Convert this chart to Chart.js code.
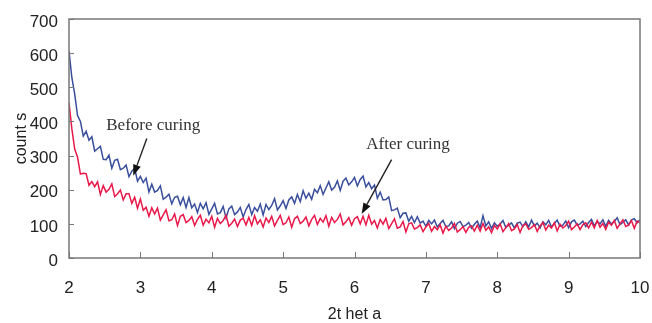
<!DOCTYPE html>
<html>
<head>
<meta charset="utf-8">
<script src="https://cdn.jsdelivr.net/npm/chart.js@4.4.0/dist/chart.umd.min.js"></script>
<style>
  html, body { margin: 0; padding: 0; background: #fff; }
  #wrap { width: 652px; height: 323px; }
</style>
</head>
<body>
<div id="wrap"><canvas id="xrd"></canvas></div>
<script>
// 2theta positions (deg), sampled every 0.04
const theta = [
  2.00,2.04,2.08,2.12,2.16,2.20,2.24,2.28,2.32,2.36,
  2.40,2.44,2.48,2.52,2.56,2.60,2.64,2.68,2.72,2.76,
  2.80,2.84,2.88,2.92,2.96,3.00,3.04,3.08,3.12,3.16,
  3.20,3.24,3.28,3.32,3.36,3.40,3.44,3.48,3.52,3.56,
  3.60,3.64,3.68,3.72,3.76,3.80,3.84,3.88,3.92,3.96,
  4.00,4.04,4.08,4.12,4.16,4.20,4.24,4.28,4.32,4.36,
  4.40,4.44,4.48,4.52,4.56,4.60,4.64,4.68,4.72,4.76,
  4.80,4.84,4.88,4.92,4.96,5.00,5.04,5.08,5.12,5.16,
  5.20,5.24,5.28,5.32,5.36,5.40,5.44,5.48,5.52,5.56,
  5.60,5.64,5.68,5.72,5.76,5.80,5.84,5.88,5.92,5.96,
  6.00,6.04,6.08,6.12,6.16,6.20,6.24,6.28,6.32,6.36,
  6.40,6.44,6.48,6.52,6.56,6.60,6.64,6.68,6.72,6.76,
  6.80,6.84,6.88,6.92,6.96,7.00,7.04,7.08,7.12,7.16,
  7.20,7.24,7.28,7.32,7.36,7.40,7.44,7.48,7.52,7.56,
  7.60,7.64,7.68,7.72,7.76,7.80,7.84,7.88,7.92,7.96,
  8.00,8.04,8.08,8.12,8.16,8.20,8.24,8.28,8.32,8.36,
  8.40,8.44,8.48,8.52,8.56,8.60,8.64,8.68,8.72,8.76,
  8.80,8.84,8.88,8.92,8.96,9.00,9.04,9.08,9.12,9.16,
  9.20,9.24,9.28,9.32,9.36,9.40,9.44,9.48,9.52,9.56,
  9.60,9.64,9.68,9.72,9.76,9.80,9.84,9.88,9.92,9.96,
  10.00
];

// counts
const beforeCuring = [
  606,528,480,417,400,357,371,345,355,313,
  320,327,289,288,301,263,286,289,259,263,
  272,238,254,262,225,239,221,234,193,216,
  193,198,211,172,178,187,159,178,181,156,
  177,148,177,147,158,133,160,144,162,128,
  144,160,129,133,151,117,144,152,127,135,
  148,120,142,157,127,148,137,158,126,157,
  142,154,174,141,153,168,145,170,179,160,
  186,165,197,175,190,172,201,191,212,186,
  205,223,199,207,226,198,225,234,214,223,
  236,211,230,240,208,221,203,214,175,193,
  170,171,179,139,141,146,118,131,132,108,
  122,104,121,102,108,93,110,100,111,91,
  101,110,92,94,106,86,102,107,92,96,
  104,87,99,108,89,124,94,106,86,103,
  93,99,110,89,96,103,88,102,105,92,
  106,91,111,94,102,88,106,97,110,91,
  101,111,93,96,108,89,106,111,96,100,
  108,92,104,113,94,107,100,112,93,110,
  100,107,118,98,104,112,97,112,115,103,
  112
];

const afterCuring = [
  455,378,319,295,246,248,247,213,224,209,
  223,186,212,193,201,217,180,188,199,170,
  188,188,160,178,146,173,140,149,122,147,
  129,146,111,126,141,109,112,129,95,122,
  127,104,110,121,95,113,125,96,114,103,
  122,90,116,101,110,125,93,102,114,92,
  111,117,97,119,95,124,100,112,91,117,
  104,122,94,110,125,98,103,120,90,115,
  122,101,108,120,94,113,125,98,116,105,
  124,93,119,104,113,129,97,106,118,96,
  115,121,100,122,97,125,99,110,88,113,
  99,116,86,101,115,87,91,107,76,100,
  103,85,89,97,77,91,101,78,92,83,
  97,73,93,81,88,101,76,83,92,75,
  90,94,79,96,79,101,81,91,74,95,
  85,100,77,89,101,80,85,98,75,95,
  100,84,89,98,78,94,104,82,96,88,
  103,79,99,88,95,108,83,91,100,83,
  98,103,88,105,88,110,90,101,84,105,
  96,110,87,100,112,92,96,110,87,108,
  104
];

const xTicks = [2, 3, 4, 5, 6, 7, 8, 9, 10];
const yTicks = [0, 100, 200, 300, 400, 500, 600, 700];

// labels with arrows, in data units
const notes = [
  { text: 'Before curing', x: 3.18, y: 388, from: [3.09, 350], to: [2.90, 241] },
  { text: 'After curing',  x: 6.75, y: 332, from: [6.52, 288], to: [6.10, 129] }
];

function toPoints(ys) {
  return theta.map((t, i) => ({ x: t, y: ys[i] }));
}

const framePlugin = {
  id: 'frame',
  afterDatasetsDraw(chart) {
    const { ctx, chartArea: a, scales: { x, y } } = chart;
    ctx.save();
    ctx.strokeStyle = '#777';
    ctx.lineWidth = 1.5;
    ctx.strokeRect(a.left, a.top, a.right - a.left, a.bottom - a.top);

    // inner tick marks
    ctx.lineWidth = 1;
    ctx.beginPath();
    xTicks.forEach(v => {
      const px = Math.round(x.getPixelForValue(v)) + 0.5;
      ctx.moveTo(px, a.bottom);
      ctx.lineTo(px, a.bottom - 6);
    });
    yTicks.forEach(v => {
      const py = Math.round(y.getPixelForValue(v)) + 0.5;
      ctx.moveTo(a.left, py);
      ctx.lineTo(a.left + 5, py);
    });
    ctx.stroke();

    // annotations
    ctx.strokeStyle = '#222';
    ctx.font = '17px "Liberation Serif", "Times New Roman", serif';
    ctx.textAlign = 'center';
    ctx.textBaseline = 'middle';
    notes.forEach(n => {
      ctx.fillStyle = '#333';
      ctx.fillText(n.text, x.getPixelForValue(n.x), y.getPixelForValue(n.y));
      const x0 = x.getPixelForValue(n.from[0]), y0 = y.getPixelForValue(n.from[1]);
      const x1 = x.getPixelForValue(n.to[0]),   y1 = y.getPixelForValue(n.to[1]);
      const ang = Math.atan2(y1 - y0, x1 - x0);
      const len = 11, half = 4;
      const bx = x1 - len * Math.cos(ang), by = y1 - len * Math.sin(ang);
      ctx.lineWidth = 1.4;
      ctx.beginPath();
      ctx.moveTo(x0, y0);
      ctx.lineTo(bx, by);
      ctx.stroke();
      ctx.beginPath();
      ctx.moveTo(x1, y1);
      ctx.lineTo(bx + half * Math.sin(ang), by - half * Math.cos(ang));
      ctx.lineTo(bx - half * Math.sin(ang), by + half * Math.cos(ang));
      ctx.closePath();
      ctx.fillStyle = '#111';
      ctx.fill();
    });
    ctx.restore();
  }
};

const tickFont = { family: '"Liberation Sans", Arial, sans-serif', size: 17 };
const titleFont = { family: '"Liberation Sans", Arial, sans-serif', size: 16, lineHeight: 1 };

new Chart(document.getElementById('xrd'), {
  type: 'line',
  data: {
    datasets: [
      {
        label: 'After curing',
        data: toPoints(afterCuring),
        borderColor: '#e8194a',
        borderWidth: 1.5,
        pointRadius: 0,
        tension: 0,
        fill: false
      },
      {
        label: 'Before curing',
        data: toPoints(beforeCuring),
        borderColor: '#3a4f9c',
        borderWidth: 1.5,
        pointRadius: 0,
        tension: 0,
        fill: false
      }
    ]
  },
  options: {
    responsive: true,
    maintainAspectRatio: false,
    animation: false,
    devicePixelRatio: 1,
    layout: { padding: { top: 19, right: 12, left: 0, bottom: 0 } },
    plugins: {
      legend: { display: false },
      tooltip: { enabled: false }
    },
    scales: {
      x: {
        type: 'linear',
        min: 2,
        max: 10,
        afterBuildTicks: s => { s.ticks = xTicks.map(v => ({ value: v })); },
        afterFit: s => { s.height = 65; s.paddingLeft = 0; s.paddingRight = 0; },
        grid: { display: false, drawTicks: false },
        border: { display: false },
        ticks: { color: '#222', font: tickFont, padding: 20, maxRotation: 0 },
        title: {
          display: true,
          text: '2t het a',
          color: '#222',
          font: titleFont,
          padding: { top: 0, bottom: 0 }
        }
      },
      y: {
        min: 0,
        max: 700,
        afterBuildTicks: s => { s.ticks = yTicks.map(v => ({ value: v })); },
        afterFit: s => { s.width = 69; s.paddingTop = 0; s.paddingBottom = 0; },
        grid: { display: false, drawTicks: false },
        border: { display: false },
        ticks: { color: '#222', font: tickFont, padding: 11, labelOffset: 3 },
        title: {
          display: true,
          text: 'count s',
          color: '#222',
          font: titleFont,
          padding: { top: 14, bottom: 0 }
        }
      }
    }
  },
  plugins: [framePlugin]
});
</script>
</body>
</html>
